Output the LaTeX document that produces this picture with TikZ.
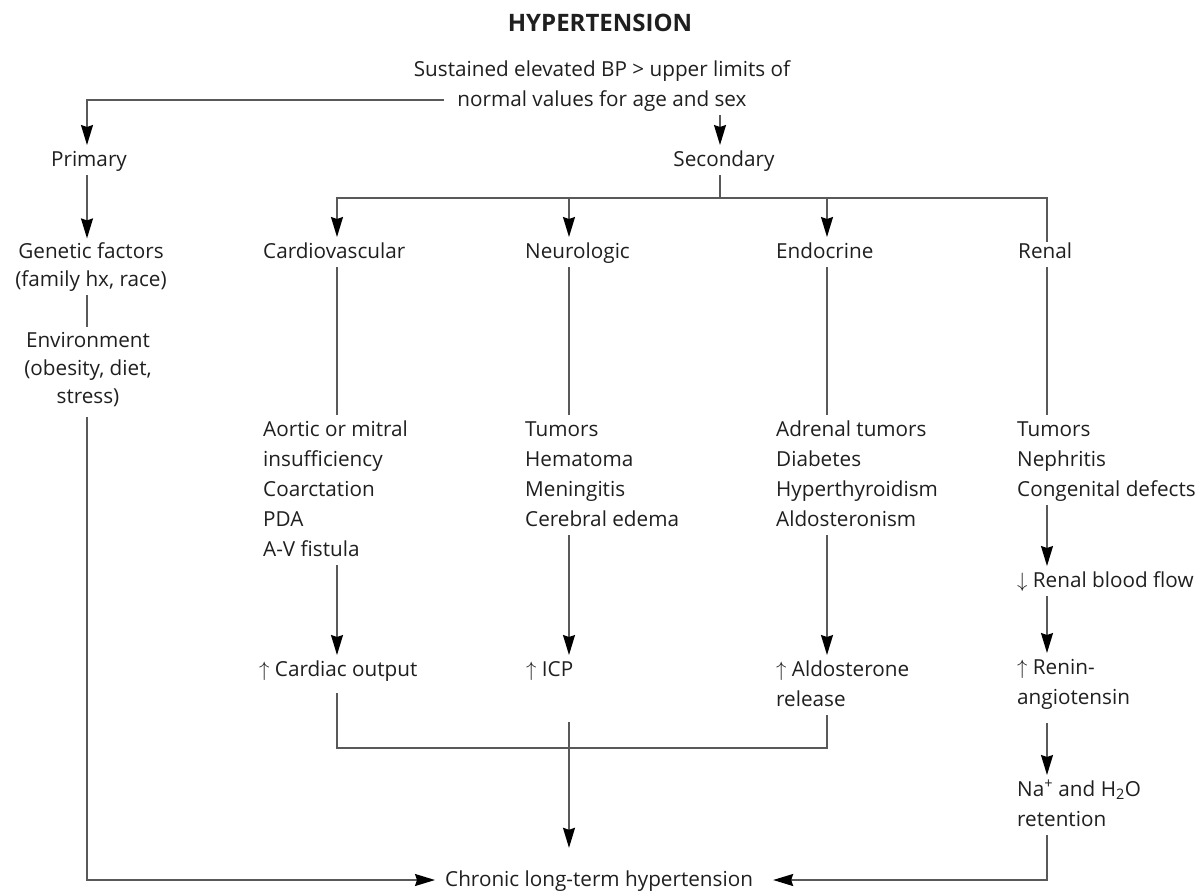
\documentclass[tikz,border=0pt]{standalone}
\usepackage{fontspec}
\setmainfont{Open Sans}
\usetikzlibrary{arrows.meta}
\begin{document}
\begin{tikzpicture}[x=1pt,y=-1pt,
  every node/.style={font=\fontsize{20.7}{30}\selectfont, inner sep=0pt, text=black!88},
  lbl/.style={anchor=north west, align=left},
  ctr/.style={anchor=north, align=center},
  leftcol/.style={anchor=north, align=center, font=\fontsize{20.7}{28}\selectfont},
  link/.style={draw=black!65, line width=1.5pt},
  arr/.style={link, -{Stealth[length=20pt,width=12pt,inset=2pt,black]}},
]
\useasboundingbox (0,0) rectangle (1203,892);

% column axes and horizontal rails
\coordinate (lx)   at (87,0);
\coordinate (secx) at (720,0);
\coordinate (cvx)  at (337,0);
\coordinate (nex)  at (569,0);
\coordinate (enx)  at (827,0);
\coordinate (rex)  at (1047,0);
\coordinate (bar)  at (0,198);
\coordinate (join) at (0,748);

% heading and definition
\node[anchor=base, font=\fontsize{24}{30}\selectfont\bfseries] (title) at (600,31) {HYPERTENSION};
\node[anchor=base] (def1) at (602,76) {\strut Sustained elevated BP > upper limits of};
\node[anchor=base, inner xsep=13pt] (def2) at (602,106) {\strut normal values for age and sex};

% two branches
\node[ctr] (primary)   at (89,145)  {\strut Primary};
\node[ctr] (secondary) at (724,145) {\strut Secondary};

% primary causes
\node[leftcol] (genetic) at (91,238.4) {\strut Genetic factors\\\strut (family hx, race)};
\node[leftcol] (environment) at (88,327.4) {\strut Environment\\\strut (obesity, diet,\\\strut stress)};

% secondary groups
\node[lbl] (cvhead) at (263,237)  {\strut Cardiovascular};
\node[lbl] (nehead) at (525,237)  {\strut Neurologic};
\node[lbl] (enhead) at (776,237)  {\strut Endocrine};
\node[lbl] (rehead) at (1018,237) {\strut Renal};

\node[lbl] (cvlist) at (263,415) {\strut Aortic or mitral\\\strut insufficiency\\\strut Coarctation\\\strut PDA\\\strut A-V fistula};
\node[lbl] (nelist) at (525,415) {\strut Tumors\\\strut Hematoma\\\strut Meningitis\\\strut Cerebral edema};
\node[lbl] (enlist) at (776,415) {\strut Adrenal tumors\\\strut Diabetes\\\strut Hyperthyroidism\\\strut Aldosteronism};
\node[lbl] (relist) at (1017,415) {\strut Tumors\\\strut Nephritis\\\strut Congenital defects};

% mechanisms
\node[lbl] (cvout) at (259,655) {\strut $\uparrow$ Cardiac output};
\node[lbl] (neout) at (526,655) {\strut $\uparrow$ ICP};
\node[lbl] (enout) at (776,655) {\strut $\uparrow$ Aldosterone\\\strut release};
\node[lbl] (rbf)   at (1017,566) {\strut $\downarrow$ Renal blood flow};
\node[lbl] (renin) at (1017,653) {\strut $\uparrow$ Renin-\\\strut angiotensin};
\node[lbl] (na)    at (1017,775) {\strut Na\textsuperscript{+} and H\textsubscript{2}O\\\strut retention};

% outcome
\node[anchor=base west, inner xsep=10pt] (chronic) at (435,886) {\strut Chronic long-term hypertension};

% definition to branches
\draw[arr] (def2.west) -| (primary.north -| lx);
\draw[arr] (def2.south -| secx) -- (secondary.north -| secx);

% primary branch
\draw[arr] (primary.south -| lx) -- (genetic.north -| lx);
\draw[link] (genetic.south -| lx) -- (environment.north -| lx);
\draw[arr, shorten <=5pt] (environment.south -| lx) |- (chronic.west);

% secondary distribution rail
\draw[link] (secondary.south -| secx) -- (secx |- bar);
\draw[arr] (secx |- bar) -| (cvhead.north -| cvx);
\draw[arr] (secx |- bar) -| (nehead.north -| nex);
\draw[arr] (secx |- bar) -| (enhead.north -| enx);
\draw[link] (secx |- bar) -| ([yshift=-5pt]rehead.north -| rex);

% cardiovascular
\draw[link] (cvhead.south -| cvx) -- (cvlist.north -| cvx);
\draw[arr] (cvlist.south -| cvx) -- (cvout.north -| cvx);

% neurologic
\draw[link] (nehead.south -| nex) -- (nelist.north -| nex);
\draw[arr] (nelist.south -| nex) -- (neout.north -| nex);

% endocrine
\draw[link] (enhead.south -| enx) -- (enlist.north -| enx);
\draw[arr] (enlist.south -| enx) -- (enout.north -| enx);

% cardiac output and aldosterone join
\draw[link, shorten <=8pt] (cvout.south -| cvx) |- (enx |- join) -- (enout.south -| enx);
\draw[arr, shorten <=37pt, shorten >=17pt] (neout.south -| nex) -- (chronic.north -| nex);

% renal
\draw[link] (rehead.south -| rex) -- (relist.north -| rex);
\draw[arr] (relist.south -| rex) -- (rbf.north -| rex);
\draw[arr] (rbf.south -| rex) -- (renin.north -| rex);
\draw[arr, shorten <=10pt] (renin.south -| rex) -- (na.north -| rex);
\draw[arr, shorten >=10pt] (na.south -| rex) |- (chronic.east);
\end{tikzpicture}
\end{document}
